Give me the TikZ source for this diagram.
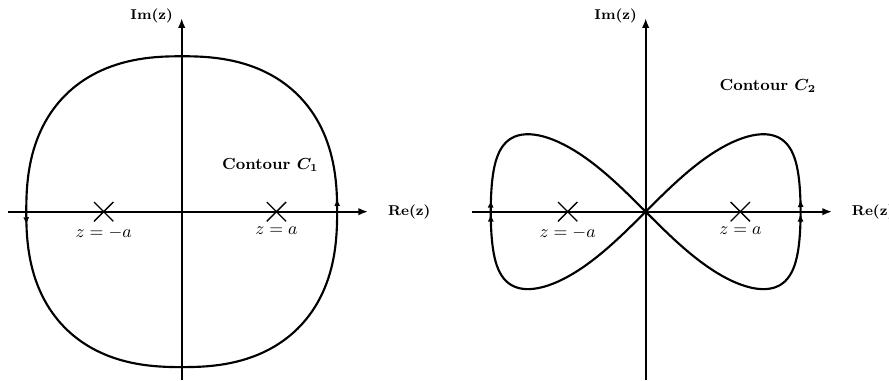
\documentclass[tikz,border=0pt]{standalone}
\usepackage{amsmath}
\usetikzlibrary{arrows.meta,shapes.misc,decorations.markings}

\begin{document}
\begin{tikzpicture}[scale=1, >={Latex[length=5.4pt,width=4.2pt]},
    axis/.style={line width=1pt},
    contour/.style={line width=1.2pt},
    pole/.style={cross out, draw, line width=0.75pt, minimum size=0.355cm, inner sep=0pt}]
  \useasboundingbox (-3.589,-3.344) rectangle (13.97,4.181);

  % ==== LEFT: AXES ====
  \coordinate (xa1) at (-3.43,0);
  \coordinate (xb1) at (3.68,0);
  \coordinate (ya1) at (0,-3.32);
  \coordinate (yb1) at (0,3.82);
  \draw[axis,->] (xa1) -- (xb1) node[right,xshift=0.26cm] (re1) {\footnotesize\textbf{Re(z)}};
  \draw[axis,->] (ya1) -- (yb1) node[left,xshift=-0.04cm,yshift=0.05cm] (im1) {\footnotesize\textbf{Im(z)}};
  % ==== LEFT: CONTOUR C1 ====
  \draw[contour, postaction={decorate}, decoration={markings,
      mark=at position 0.2cm with {\arrow{Latex[length=4.2pt,width=3.4pt]}},
      mark=at position 0.51 with {\arrow{Latex[length=4.2pt,width=3.4pt]}}}]
    plot[samples=181, domain=0.5:360.5]
    ({3.07*cos(\x)*pow(abs(cos(\x)),-0.1667)}, {3.07*sin(\x)*pow(abs(sin(\x)),-0.1667)}) -- cycle;
  % ==== LEFT: POLES ====
  \node[pole] (pm1) at (-1.54,0) {};
  \node[pole] (pp1) at (1.87,0) {};
  \node[below] (zm1) at (-1.54,-0.18) {$z=-a$};
  \node[below] (zp1) at (1.87,-0.18) {$z=a$};
  \node (lab1) at (1.75,0.92) {\small\textbf{Contour \boldmath$C_1$}};

  \begin{scope}[xshift=9.164cm]
    % ==== RIGHT: AXES ====
    \coordinate (xa2) at (-3.43,0);
    \coordinate (xb2) at (3.68,0);
    \coordinate (ya2) at (0,-3.32);
    \coordinate (yb2) at (0,3.82);
    \draw[axis,->] (xa2) -- (xb2) node[right,xshift=0.26cm] (re2) {\footnotesize\textbf{Re(z)}};
    \draw[axis,->] (ya2) -- (yb2) node[left,xshift=-0.04cm,yshift=0.05cm] (im2) {\footnotesize\textbf{Im(z)}};
    % ==== RIGHT: CONTOUR C2 ====
    \draw[contour, postaction={decorate}, decoration={markings,
        mark=at position 0.24cm with {\arrow{Latex[length=4.2pt,width=3.4pt]}},
        mark=at position 0.4975 with {\arrow{Latex[length=4.2pt,width=3.4pt]}},
        mark=at position 0.512 with {\arrow{Latex[length=4.2pt,width=3.4pt]}},
        mark=at position 0.9975 with {\arrow{Latex[length=4.2pt,width=3.4pt]}}}]
      plot[samples=181, domain=0:360]
      ({3.06*cos(\x)*(1+0.075*sin(2*\x)*sin(2*\x))}, {3.06*sin(\x)*cos(\x)}) -- cycle;
    % ==== RIGHT: POLES ====
    \node[pole] (pm2) at (-1.54,0) {};
    \node[pole] (pp2) at (1.87,0) {};
    \node[below] (zm2) at (-1.54,-0.18) {$z=-a$};
    \node[below] (zp2) at (1.87,-0.18) {$z=a$};
    \node (lab2) at (2.415,2.48) {\small\textbf{Contour \boldmath$C_2$}};
  \end{scope}
\end{tikzpicture}
\end{document}
